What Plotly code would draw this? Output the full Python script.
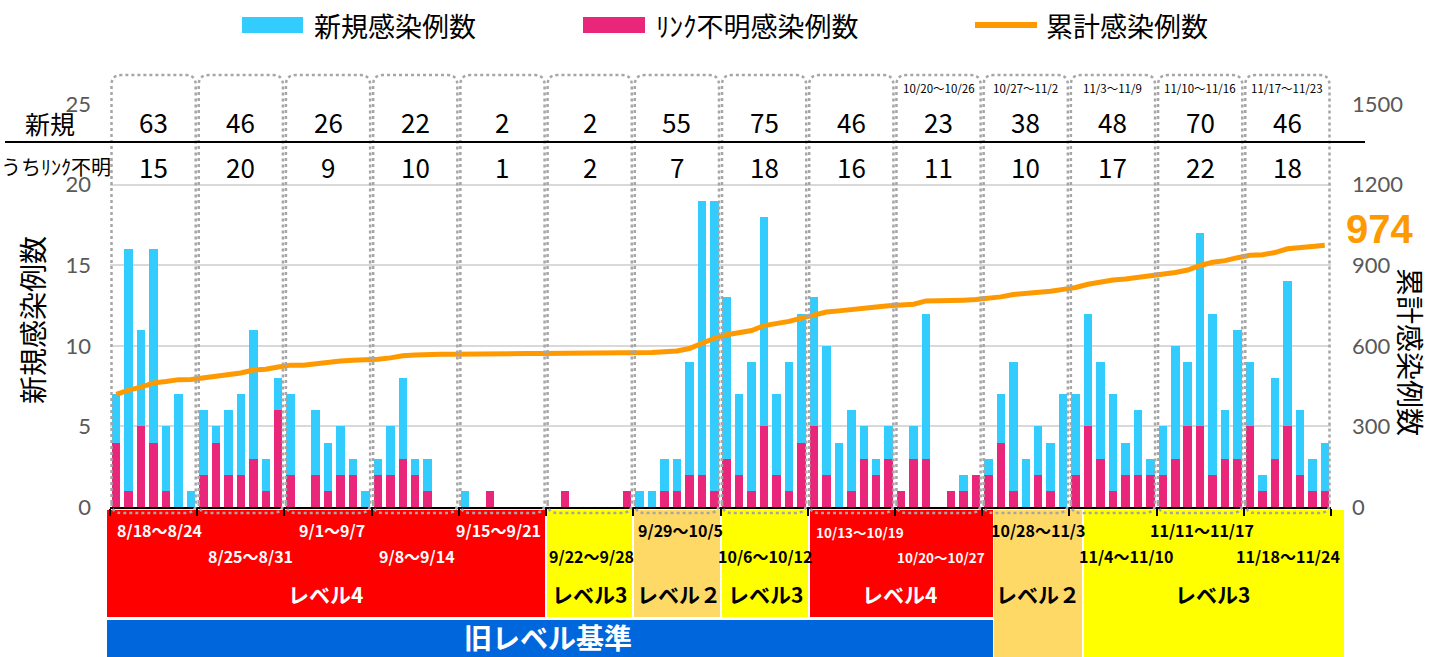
import plotly.graph_objects as go
import pandas as pd
import numpy as np

# ---------------- data ----------------
dates = pd.date_range("2020-08-18", periods=98, freq="D")

new_cases = [
    7, 16, 11, 16, 5, 7, 1,
    6, 5, 6, 7, 11, 3, 8,
    7, 0, 6, 4, 5, 3, 1,
    3, 5, 8, 3, 3, 0, 0,
    1, 0, 1, 0, 0, 0, 0,
    0, 1, 0, 0, 0, 0, 1,
    1, 1, 3, 3, 9, 19, 19,
    13, 7, 9, 18, 7, 9, 12,
    13, 10, 4, 6, 5, 3, 5,
    1, 5, 12, 0, 1, 2, 2,
    3, 7, 9, 3, 5, 4, 7,
    7, 12, 9, 7, 4, 6, 3,
    5, 10, 9, 17, 12, 6, 11,
    9, 2, 8, 14, 6, 3, 4,
]
unknown_cases = [
    4, 1, 5, 4, 1, 0, 0,
    2, 4, 2, 2, 3, 1, 6,
    2, 0, 2, 1, 2, 2, 0,
    2, 2, 3, 2, 1, 0, 0,
    0, 0, 1, 0, 0, 0, 0,
    0, 1, 0, 0, 0, 0, 1,
    0, 0, 1, 1, 2, 2, 1,
    3, 2, 1, 5, 2, 1, 4,
    5, 2, 0, 1, 3, 2, 3,
    1, 3, 3, 0, 1, 1, 2,
    2, 4, 1, 0, 2, 1, 0,
    2, 5, 3, 1, 2, 2, 2,
    2, 3, 5, 5, 2, 3, 3,
    5, 1, 3, 5, 2, 1, 1,
]
cumulative_before_period = 412
cumulative = list(np.cumsum(new_cases) + cumulative_before_period)
final_cumulative = 974

week_new_totals = [63, 46, 26, 22, 2, 2, 55, 75, 46, 23, 38, 48, 70, 46]
week_unknown_totals = [15, 20, 9, 10, 1, 2, 7, 18, 16, 11, 10, 17, 22, 18]
week_headers = ["", "", "", "", "", "", "", "", "",
                "10/20～10/26", "10/27～11/2", "11/3～11/9", "11/10～11/16", "11/17～11/23"]

band_date_labels = ["8/18～8/24", "8/25～8/31", "9/1～9/7", "9/8～9/14", "9/15～9/21",
                    "9/22～9/28", "9/29～10/5", "10/6～10/12", "10/13～10/19", "10/20～10/27",
                    "10/28～11/3", "11/4～11/10", "11/11～11/17", "11/18～11/24"]
level_labels = ["レベル4", "レベル3", "レベル２", "レベル3", "レベル4", "レベル２", "レベル3"]
old_standard_label = "旧レベル基準"

left_ticks = [0, 5, 10, 15, 20, 25]
right_ticks = [0, 300, 600, 900, 1200, 1500]

# ---------------- style ----------------
BLUE = "#33CCFF"
PINK = "#E9267A"
ORANGE = "#FF9900"
RED = "#FF0000"
YELLOW = "#FFFF00"
LORANGE = "#FFD966"
DBLUE = "#0066DB"
JP = "Noto Sans CJK JP"

W, H = 1431, 657
L, R, T, B = 110, 100, 104, 150
PW, PH = W - L - R, H - T - B


def px(X):
    return (X - L) / PW


def py(Y):
    return (H - B - Y) / PH


day_ms = 86400000
fig = go.Figure()
fig.add_trace(go.Bar(x=dates, y=new_cases, marker=dict(color=BLUE, line_width=0),
                     width=0.68 * day_ms, name="新規感染例数", showlegend=False))
fig.add_trace(go.Bar(x=dates, y=unknown_cases, marker=dict(color=PINK, line_width=0),
                     width=0.68 * day_ms, name="ﾘﾝｸ不明感染例数", showlegend=False))
fig.add_trace(go.Scatter(x=dates, y=cumulative, yaxis="y2", mode="lines",
                         line=dict(color=ORANGE, width=5), name="累計感染例数", showlegend=False))

shapes = []
annotations = []

# week boundaries
start = dates[0] - pd.Timedelta(hours=12)
boundaries = [start + pd.Timedelta(days=7 * k) for k in range(15)]

# dotted rounded boxes per week
day_px = PW / 98.0
for k in range(14):
    X0 = L + 7 * k * day_px + 1.5
    X1 = L + 7 * (k + 1) * day_px - 1.5
    Ytop, Ybot = 75, 513
    x0, x1 = px(X0), px(X1)
    y0, y1 = py(Ybot), py(Ytop)
    rx, ry = 10 / PW, 10 / PH
    path = (f"M {x0},{y0+ry} L {x0},{y1-ry} Q {x0},{y1} {x0+rx},{y1} "
            f"L {x1-rx},{y1} Q {x1},{y1} {x1},{y1-ry} L {x1},{y0+ry} "
            f"Q {x1},{y0} {x1-rx},{y0} L {x0+rx},{y0} Q {x0},{y0} {x0},{y0+ry} Z")
    shapes.append(dict(type="path", path=path, xref="paper", yref="paper",
                       line=dict(color="#A6A6A6", width=2.5, dash="dot"), layer="above"))
    cx = px(L + (7 * k + 3.5) * day_px)
    annotations.append(dict(x=cx, y=py(122), xref="paper", yref="paper", text=str(week_new_totals[k]),
                            showarrow=False, font=dict(family=JP, size=26, color="black"),
                            xanchor="center", yanchor="middle"))
    annotations.append(dict(x=cx, y=py(166), xref="paper", yref="paper", text=str(week_unknown_totals[k]),
                            showarrow=False, font=dict(family=JP, size=26, color="black"),
                            xanchor="center", yanchor="middle"))
    if week_headers[k]:
        annotations.append(dict(x=cx, y=py(88), xref="paper", yref="paper", text=week_headers[k],
                                showarrow=False, font=dict(family=JP, size=11.5, color="black"),
                                xanchor="center", yanchor="middle"))

# table row labels and divider
annotations.append(dict(x=px(50), y=py(123), xref="paper", yref="paper", text="新規", showarrow=False,
                        font=dict(family=JP, size=25, color="black"), xanchor="center", yanchor="middle"))
annotations.append(dict(x=px(56), y=py(166), xref="paper", yref="paper", text="うちﾘﾝｸ不明", showarrow=False,
                        font=dict(family=JP, size=20, color="black"), xanchor="center", yanchor="middle"))
shapes.append(dict(type="line", xref="paper", yref="paper", x0=px(5), x1=px(1365), y0=py(142), y1=py(142),
                   line=dict(color="black", width=2)))

# level bands (pixel layout)
bands = [
    (107, 545, 510, 617, RED), (547, 632, 510, 617, YELLOW), (634, 720, 510, 617, LORANGE),
    (722, 808, 510, 617, YELLOW), (810, 993, 510, 617, RED), (994, 1082, 510, 657, LORANGE),
    (1084, 1344, 510, 657, YELLOW), (107, 993, 620, 657, DBLUE),
]
for X0, X1, Y0, Y1, c in bands:
    shapes.append(dict(type="rect", xref="paper", yref="paper", x0=px(X0), x1=px(X1), y0=py(Y1), y1=py(Y0),
                       fillcolor=c, line_width=0, layer="below"))

date_pos = [(159, 530), (250, 556), (332, 530), (417, 556), (498, 530), (591, 556), (680, 530),
            (765, 556), (860, 532), (941, 557), (1038, 530), (1126, 556), (1202, 530), (1288, 556)]
date_col = ["white"] * 5 + ["black"] * 3 + ["white"] * 2 + ["black"] * 4
date_size = [16] * 8 + [13.5, 13.5] + [16] * 4
for lab, (X, Y), c, s in zip(band_date_labels, date_pos, date_col, date_size):
    annotations.append(dict(x=px(X), y=py(Y), xref="paper", yref="paper", text=f"<b>{lab}</b>",
                            showarrow=False, font=dict(family=JP, size=s, color=c),
                            xanchor="center", yanchor="middle"))
level_pos = [325, 589, 679, 765, 899, 1038, 1212]
level_col = ["white", "black", "black", "black", "white", "black", "black"]
for lab, X, c in zip(level_labels, level_pos, level_col):
    annotations.append(dict(x=px(X), y=py(594), xref="paper", yref="paper", text=f"<b>{lab}</b>",
                            showarrow=False, font=dict(family=JP, size=21, color=c),
                            xanchor="center", yanchor="middle"))
annotations.append(dict(x=px(548), y=py(637), xref="paper", yref="paper", text=f"<b>{old_standard_label}</b>",
                        showarrow=False, font=dict(family=JP, size=28, color="white"),
                        xanchor="center", yanchor="middle"))

# custom legend
shapes.append(dict(type="rect", xref="paper", yref="paper", x0=px(242), x1=px(303), y0=py(33), y1=py(17),
                   fillcolor=BLUE, line_width=0))
shapes.append(dict(type="rect", xref="paper", yref="paper", x0=px(583), x1=px(645), y0=py(33), y1=py(17),
                   fillcolor=PINK, line_width=0))
shapes.append(dict(type="line", xref="paper", yref="paper", x0=px(975), x1=px(1037), y0=py(25), y1=py(25),
                   line=dict(color=ORANGE, width=6)))
for X, t in [(312, "新規感染例数"), (654, "ﾘﾝｸ不明感染例数"), (1044, "累計感染例数")]:
    annotations.append(dict(x=px(X), y=py(25), xref="paper", yref="paper", text=t, showarrow=False,
                            font=dict(family=JP, size=27, color="black"), xanchor="left", yanchor="middle"))

# axis titles and final value
annotations.append(dict(x=px(32), y=py(320), xref="paper", yref="paper", text="新規感染例数", textangle=-90,
                        showarrow=False, font=dict(family=JP, size=28, color="black"),
                        xanchor="center", yanchor="middle"))
annotations.append(dict(x=px(1411), y=py(352), xref="paper", yref="paper", text="累計感染例数", textangle=90,
                        showarrow=False, font=dict(family=JP, size=28, color="black"),
                        xanchor="center", yanchor="middle"))
annotations.append(dict(x=px(1379), y=py(229), xref="paper", yref="paper", text=f"<b>{final_cumulative}</b>",
                        showarrow=False, font=dict(family="Liberation Sans", size=40, color=ORANGE),
                        xanchor="center", yanchor="middle"))

fig.update_layout(
    width=W, height=H, margin=dict(l=L, r=R, t=T, b=B, autoexpand=False),
    barmode="overlay", bargap=0, paper_bgcolor="white", plot_bgcolor="white",
    showlegend=False, shapes=shapes, annotations=annotations,
    xaxis=dict(type="date", range=[boundaries[0], boundaries[-1]], tickvals=boundaries,
               showticklabels=False, ticks="outside", ticklen=7, tickwidth=2, tickcolor="black",
               showline=True, linecolor="black", linewidth=2, showgrid=False, zeroline=False),
    yaxis=dict(range=[0, 25], tickvals=left_ticks, showgrid=True, gridcolor="#D9D9D9", gridwidth=2,
               zeroline=False, showline=False, ticks="", ticklabelstandoff=18,
               tickfont=dict(family="Lato", size=22, color="#595959")),
    yaxis2=dict(range=[0, 1500], tickvals=right_ticks, overlaying="y", side="right", showgrid=False,
                zeroline=False, showline=False, ticks="", ticklabelstandoff=20,
                tickfont=dict(family="Lato", size=22, color="#595959")),
)

fig.write_html("out.html", config={"displayModeBar": False},
               post_script="document.body.style.margin='0px';document.body.style.overflow='hidden';")
